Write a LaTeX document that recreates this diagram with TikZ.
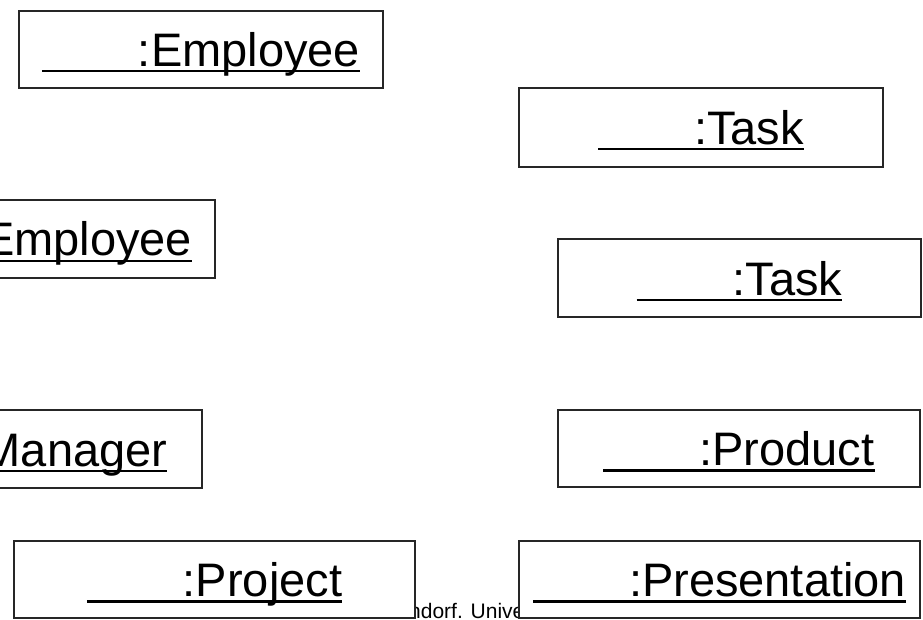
\documentclass[tikz,border=0pt]{standalone}
\usepackage{fontspec}
\setmainfont{Liberation Sans}
% object name: underlined blank followed by the name, rule at a fixed depth
\newcommand{\objname}[1]{%
  \setbox0\hbox{\hspace{96pt}#1}%
  \rlap{\rule[-6pt]{\wd0}{2.4pt}}\box0}
\begin{document}
\begin{tikzpicture}[x=1pt,y=-1pt,
  objbox/.style={draw=black!85, line width=1.7pt, fill=white, inner sep=0pt,
    text height=34pt, text depth=0pt,
    font=\fontsize{47}{56}\selectfont, minimum height=78pt},
  footer/.style={font=\fontsize{21}{25}\selectfont, inner sep=0pt, anchor=base west}]
\useasboundingbox (0,0) rectangle (923,620);
\fill[white] (0,0) rectangle (923,620);

% footer line, mostly hidden behind the bottom boxes
\node[footer] (foot) at (409,618) {ndorf. Unive};

\node[objbox, minimum width=364pt, minimum height=77pt] (emp1) at (201,49.5) {\objname{:Employee}};
\node[objbox, minimum width=364pt, minimum height=79pt] (task1) at (701,127.5) {\objname{:Task}};
\node[objbox, minimum width=364pt] (emp2) at (33,239) {\objname{:Employee}};
\node[objbox, minimum width=363pt] (task2) at (739.5,278) {\objname{:Task}};
\node[objbox, minimum width=364pt] (mgr) at (20,449) {\objname{:Manager}};
\node[objbox, minimum width=362pt, minimum height=77pt] (prod) at (739,448.5) {\objname{:Product}};
\node[objbox, minimum width=401pt, minimum height=77pt] (proj) at (214.5,579.5) {\objname{:Project}};
\node[objbox, minimum width=401pt, minimum height=77pt] (pres) at (719.5,579.5) {\objname{:Presentation}};
\end{tikzpicture}
\end{document}
